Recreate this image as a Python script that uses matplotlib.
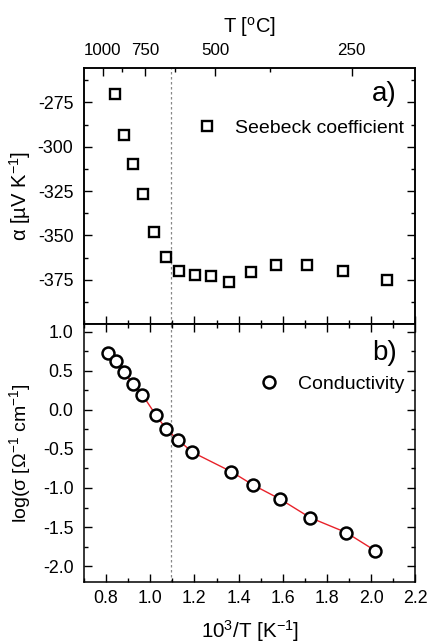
import matplotlib
matplotlib.use("Agg")
import matplotlib.pyplot as plt
import numpy as np
from matplotlib.ticker import MultipleLocator, FixedLocator, FormatStrFormatter

plt.rcParams['font.family'] = ['Liberation Sans', 'DejaVu Sans']
plt.rcParams['mathtext.fontset'] = 'custom'
plt.rcParams['mathtext.rm'] = 'Liberation Sans'
plt.rcParams['mathtext.it'] = 'Liberation Sans'
plt.rcParams['axes.unicode_minus'] = False

# Seebeck coefficient (panel a)
seebeck_x = [0.841, 0.881, 0.920, 0.968, 1.015, 1.073, 1.130, 1.201, 1.274, 1.355,
             1.456, 1.569, 1.707, 1.872, 2.069]
seebeck_y = [-270.3, -293.6, -309.9, -326.5, -348.3, -362.1, -370.2, -372.4, -373.0,
             -376.2, -370.8, -366.9, -366.9, -370.2, -375.0]

# Conductivity (panel b)
cond_x = [0.810, 0.845, 0.881, 0.923, 0.965, 1.025, 1.073, 1.126, 1.191, 1.366,
          1.467, 1.588, 1.723, 1.887, 2.019]
cond_y = [0.734, 0.627, 0.483, 0.333, 0.192, -0.064, -0.247, -0.384, -0.542, -0.790,
          -0.964, -1.143, -1.379, -1.571, -1.805]

T_major = [1000, 750, 500, 250]
T_minor = [875, 625, 375]
transition_x = 1.095

W, H = 428, 643
fig = plt.figure(figsize=(W / 100, H / 100), dpi=100)
left, right = 83.9 / W, 415.5 / W
top_a, mid, bot_b = 1 - 68 / H, 1 - 324 / H, 1 - 581.7 / H
ax_a = fig.add_axes([left, mid, right - left, top_a - mid])
ax_b = fig.add_axes([left, bot_b, right - left, mid - bot_b])

tick_fs = 12.8
for ax in (ax_a, ax_b):
    ax.set_xlim(0.7, 2.2)
    ax.xaxis.set_major_locator(MultipleLocator(0.2))
    ax.xaxis.set_minor_locator(MultipleLocator(0.1))
    ax.tick_params(which='both', direction='in', top=True, right=True, width=1.0,
                   labelsize=tick_fs)
    ax.tick_params(which='major', length=6)
    ax.tick_params(which='minor', length=3)
    ax.tick_params(axis='y', pad=7.5)
    ax.tick_params(axis='x', pad=6)
    for s in ax.spines.values():
        s.set_linewidth(1.1)
    ax.axvline(transition_x, color='#888888', lw=0.9, ls=(0, (2, 2)), zorder=1)

leg_kw = dict(frameon=False, fontsize=14, handletextpad=0.85, handlelength=1.2,
              borderaxespad=0, borderpad=0)

# Panel a
ax_a.plot(seebeck_x, seebeck_y, ls='none', marker='s', ms=7.4, mfc='white', mec='black',
          mew=1.7, label='Seebeck coefficient', zorder=3)
ax_a.set_ylim(-400, -255.6)
ax_a.yaxis.set_major_locator(FixedLocator([-375, -350, -325, -300, -275]))
ax_a.yaxis.set_minor_locator(FixedLocator([-387.5, -362.5, -337.5, -312.5, -287.5, -262.5]))
ax_a.tick_params(axis='x', labelbottom=False, top=False)
ax_a.set_ylabel('α [µV K$^{-1}$]', fontsize=14.5)
ax_a.yaxis.set_label_coords(-0.153, 0.5)
ax_a.text(0.944, 0.898, 'a)', transform=ax_a.transAxes, ha='right', va='center', fontsize=20)
ax_a.legend(loc='center right', bbox_to_anchor=(0.965, 0.766), **leg_kw)

# Top temperature axis
ax_t = ax_a.twiny()
ax_t.set_xlim(ax_a.get_xlim())
ax_t.xaxis.set_major_locator(FixedLocator([1000 / (t + 273.15) for t in T_major]))
ax_t.xaxis.set_minor_locator(FixedLocator([1000 / (t + 273.15) for t in T_minor]))
ax_t.set_xticklabels([str(t) for t in T_major])
ax_t.tick_params(which='both', direction='in', width=1.0, labelsize=12.2, pad=7.5)
ax_t.tick_params(which='major', length=6)
ax_t.tick_params(which='minor', length=3)
ax_t.set_xlabel('T [$^{\\mathrm{o}}$C]', fontsize=14.5, labelpad=7)
for s in ax_t.spines.values():
    s.set_linewidth(1.1)

# Panel b
ax_b.plot(cond_x, cond_y, color='#e8222a', lw=1.0, zorder=2)
ax_b.plot(cond_x, cond_y, ls='none', marker='o', ms=8.6, mfc='white', mec='black',
          mew=1.8, label='Conductivity', zorder=3)
ax_b.set_ylim(-2.2, 1.1)
ax_b.yaxis.set_major_locator(MultipleLocator(0.5))
ax_b.yaxis.set_minor_locator(MultipleLocator(0.25))
ax_b.yaxis.set_major_formatter(FormatStrFormatter('%.1f'))
ax_b.set_ylabel('log(σ [Ω$^{-1}$ cm$^{-1}$]', fontsize=14)
ax_b.yaxis.set_label_coords(-0.153, 0.5)
ax_b.set_xlabel('10$^{3}$/T [K$^{-1}$]', fontsize=14.8, labelpad=8)
ax_b.text(0.944, 0.887, 'b)', transform=ax_b.transAxes, ha='right', va='center', fontsize=20)
ax_b.legend(loc='center right', bbox_to_anchor=(0.965, 0.767), **leg_kw)

fig.savefig('out.png', dpi=100)
